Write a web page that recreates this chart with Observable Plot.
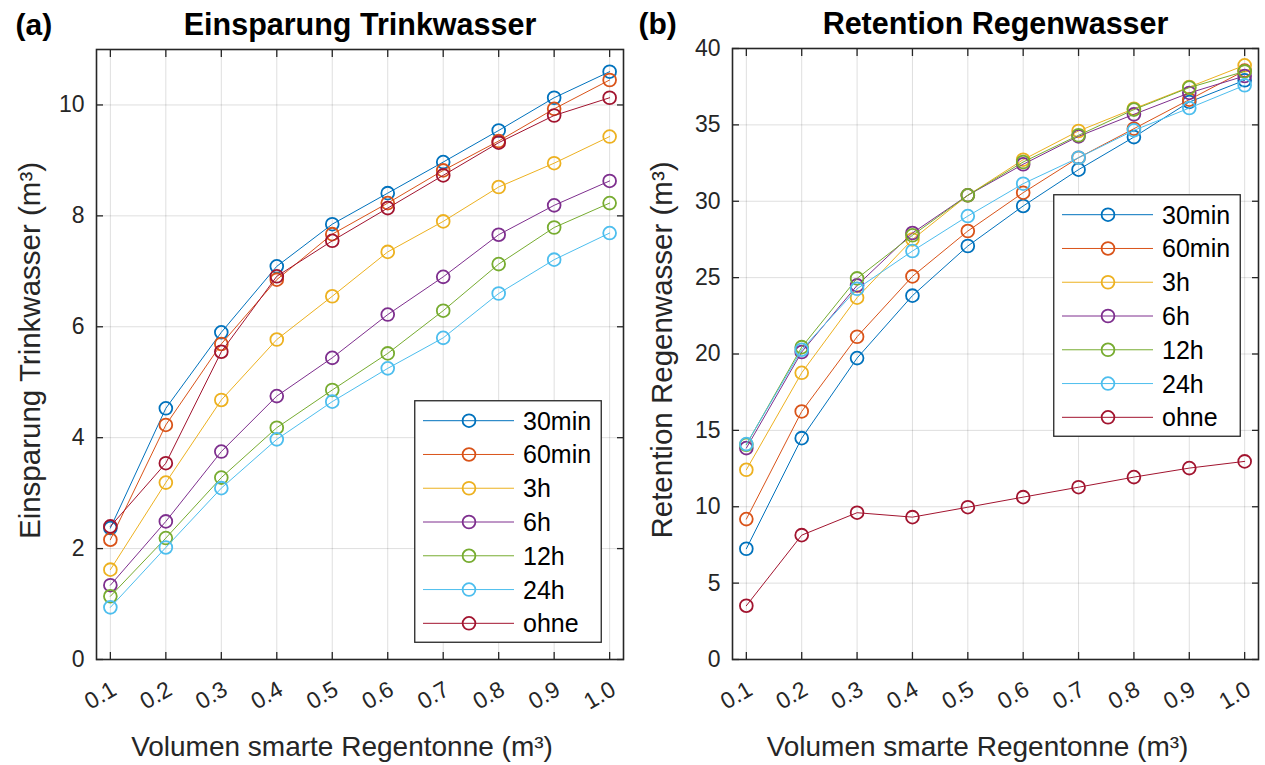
<!DOCTYPE html>
<html><head><meta charset="utf-8">
<script src="https://cdn.jsdelivr.net/npm/d3@7"></script>
<script src="https://cdn.jsdelivr.net/npm/@observablehq/plot@0.6"></script>
<style>
body{margin:0;background:#fff;}
#fig{position:relative;width:1265px;height:765px;font-family:"Liberation Sans",Arial,sans-serif;overflow:hidden;}
.panel{position:absolute;top:0;}
.legend{position:absolute;}
</style></head><body><div id="fig"></div>
<script>
// ---- data ----
const volumes = [0.1, 0.2, 0.3, 0.4, 0.5, 0.6, 0.7, 0.8, 0.9, 1.0];
const seriesNames = ["30min", "60min", "3h", "6h", "12h", "24h", "ohne"];
const seriesColors = ["#0072BD", "#D95319", "#EDB120", "#7E2F8E", "#77AC30", "#4DBEEE", "#A2142F"];

// (a) Einsparung Trinkwasser (m³)
const trink30min = [2.37, 4.53, 5.90, 7.09, 7.85, 8.41, 8.97, 9.54, 10.13, 10.60];
const trink60min = [2.16, 4.23, 5.69, 6.85, 7.67, 8.23, 8.82, 9.35, 9.93, 10.45];
const trink3h    = [1.62, 3.19, 4.68, 5.77, 6.55, 7.35, 7.90, 8.52, 8.95, 9.43];
const trink6h    = [1.34, 2.49, 3.75, 4.75, 5.44, 6.22, 6.90, 7.66, 8.19, 8.63];
const trink12h   = [1.14, 2.19, 3.28, 4.18, 4.86, 5.52, 6.29, 7.13, 7.79, 8.23];
const trink24h   = [0.94, 2.02, 3.09, 3.97, 4.65, 5.25, 5.80, 6.60, 7.21, 7.69];
const trinkOhne  = [2.40, 3.54, 5.55, 6.91, 7.55, 8.14, 8.73, 9.32, 9.81, 10.13];

// (b) Retention Regenwasser (m³)
const ret30min = [7.25, 14.49, 19.73, 23.82, 27.07, 29.69, 32.07, 34.20, 36.50, 37.92];
const ret60min = [9.19, 16.24, 21.13, 25.08, 28.05, 30.56, 32.85, 34.75, 36.65, 38.55];
const ret3h    = [12.42, 18.77, 23.69, 27.50, 30.39, 32.72, 34.60, 36.06, 37.48, 38.90];
const ret6h    = [13.84, 20.13, 24.49, 27.92, 30.39, 32.42, 34.25, 35.69, 37.09, 38.20];
const ret12h   = [14.06, 20.45, 24.95, 27.77, 30.39, 32.57, 34.32, 36.00, 37.44, 38.50];
const ret24h   = [14.10, 20.28, 24.27, 26.74, 29.03, 31.15, 32.85, 34.64, 36.10, 37.59];
const retOhne  = [3.52, 8.14, 9.61, 9.32, 9.97, 10.63, 11.28, 11.94, 12.53, 12.97];

const trinkTicks = [0, 2, 4, 6, 8, 10];
const retTicks = [0, 5, 10, 15, 20, 25, 30, 35, 40];

// ---- build ----
function toRows(seriesArrays) {
  const rows = [];
  seriesArrays.forEach((vals, i) => vals.forEach((v, j) => rows.push({x: volumes[j], y: v, s: seriesNames[i]})));
  return rows;
}
const trinkRows = toRows([trink30min, trink60min, trink3h, trink6h, trink12h, trink24h, trinkOhne]);
const retRows = toRows([ret30min, ret60min, ret3h, ret6h, ret12h, ret24h, retOhne]);

const axisColor = "#262626";
const fmtX = d3.format(".1f");
const fmtY = d3.format("d");
const FONT = '"Liberation Sans", Arial, sans-serif';

function panel({rows, yDomain, yTicks, width, marginLeft, marginRight, marginTop, title, tag, tagDx, ylabel, ylabelDx}) {
  const marks = [
    Plot.gridX(volumes, {stroke: "#000", strokeOpacity: 0.13, strokeWidth: 1}),
    Plot.gridY(yTicks, {stroke: "#000", strokeOpacity: 0.13, strokeWidth: 1})
  ];
  seriesNames.forEach((name, i) => {
    const d = rows.filter(r => r.s === name);
    marks.push(Plot.line(d, {x: "x", y: "y", stroke: seriesColors[i], strokeWidth: 1}));
    marks.push(Plot.dot(d, {x: "x", y: "y", r: 6.4, stroke: seriesColors[i], strokeWidth: 1.8, fill: "none"}));
  });
  marks.push(
    Plot.frame({stroke: axisColor, strokeWidth: 1.6}),
    // inward tick marks on all four sides
    Plot.axisX(volumes, {anchor: "bottom", tickSize: 7, dy: -7, tickFormat: () => "", label: null, stroke: axisColor, strokeWidth: 1.3}),
    Plot.axisX(volumes, {anchor: "top", tickSize: 7, dy: 7, tickFormat: () => "", label: null, stroke: axisColor, strokeWidth: 1.3}),
    Plot.axisY(yTicks, {anchor: "left", tickSize: 7, dx: 7, tickFormat: () => "", label: null, stroke: axisColor, strokeWidth: 1.3}),
    Plot.axisY(yTicks, {anchor: "right", tickSize: 7, dx: -7, tickFormat: () => "", label: null, stroke: axisColor, strokeWidth: 1.3}),
    // tick labels
    Plot.axisX(volumes, {anchor: "bottom", tickSize: 0, tickPadding: 28, dx: 4, tickRotate: -30, tickFormat: fmtX, label: null, fill: axisColor, fontSize: 23}),
    Plot.axisY(yTicks, {anchor: "left", tickSize: 0, tickPadding: 12, tickFormat: fmtY, label: null, fill: axisColor, fontSize: 23}),
    // titles and axis labels
    Plot.text([title], {frameAnchor: "top", lineAnchor: "middle", dy: -24, fontWeight: "bold", fontSize: 30.5, fill: "#000"}),
    Plot.text([tag], {frameAnchor: "top-left", textAnchor: "start", lineAnchor: "middle", dx: tagDx, dy: -24, fontWeight: "bold", fontSize: 30, fill: "#000"}),
    Plot.text([ylabel], {frameAnchor: "left", textAnchor: "middle", lineAnchor: "middle", rotate: -90, dx: ylabelDx, dy: -4, fontSize: 29.5, fill: axisColor}),
    Plot.text(["Volumen smarte Regentonne (m³)"], {frameAnchor: "bottom", lineAnchor: "middle", dx: -18, dy: 88, fontSize: 28, fill: axisColor})
  );
  return Plot.plot({
    width, height: 765,
    marginLeft, marginRight, marginTop, marginBottom: 106,
    x: {domain: [0.075, 1.025]},
    y: {domain: yDomain},
    style: {fontFamily: FONT, fontSize: "23px", color: axisColor, background: "transparent", overflow: "visible"},
    marks
  });
}

function legend(left, top) {
  const w = 188, h = 243, rowH = 33.77;
  const svg = d3.create("svg").attr("width", w).attr("height", h).attr("class", "legend")
    .style("left", left + "px").style("top", top + "px");
  svg.append("rect").attr("x", 0.75).attr("y", 0.75).attr("width", w - 1.5).attr("height", h - 1.5)
    .attr("fill", "#fff").attr("stroke", axisColor).attr("stroke-width", 1.3);
  seriesNames.forEach((name, i) => {
    const cy = 20.7 + i * rowH;
    const g = svg.append("g");
    g.append("line").attr("x1", 9).attr("x2", 100).attr("y1", cy).attr("y2", cy).attr("stroke", seriesColors[i]).attr("stroke-width", 1);
    g.append("circle").attr("cx", 55).attr("cy", cy).attr("r", 6.4).attr("fill", "none").attr("stroke", seriesColors[i]).attr("stroke-width", 1.8);
    g.append("text").attr("x", 109).attr("y", cy).attr("dy", "0.36em").attr("font-size", 25)
      .attr("font-family", FONT).attr("fill", "#000").text(name);
  });
  return svg.node();
}

const fig = document.getElementById("fig");
const left = panel({rows: trinkRows, yDomain: [0, 11], yTicks: trinkTicks, width: 632, marginLeft: 96, marginRight: 9, marginTop: 49,
  title: "Einsparung Trinkwasser", tag: "(a)", tagDx: -81, ylabel: "Einsparung Trinkwasser (m³)", ylabelDx: -66});
left.classList.add("panel"); left.style.left = "0px";
const right = panel({rows: retRows, yDomain: [0, 40], yTicks: retTicks, width: 633, marginLeft: 100, marginRight: 7, marginTop: 48,
  title: "Retention Regenwasser", tag: "(b)", tagDx: -94, ylabel: "Retention Regenwasser (m³)", ylabelDx: -70});
right.classList.add("panel"); right.style.left = "632px";
fig.appendChild(left);
fig.appendChild(right);
fig.appendChild(legend(414, 400));
fig.appendChild(legend(1052.7, 194));
</script></body></html>
